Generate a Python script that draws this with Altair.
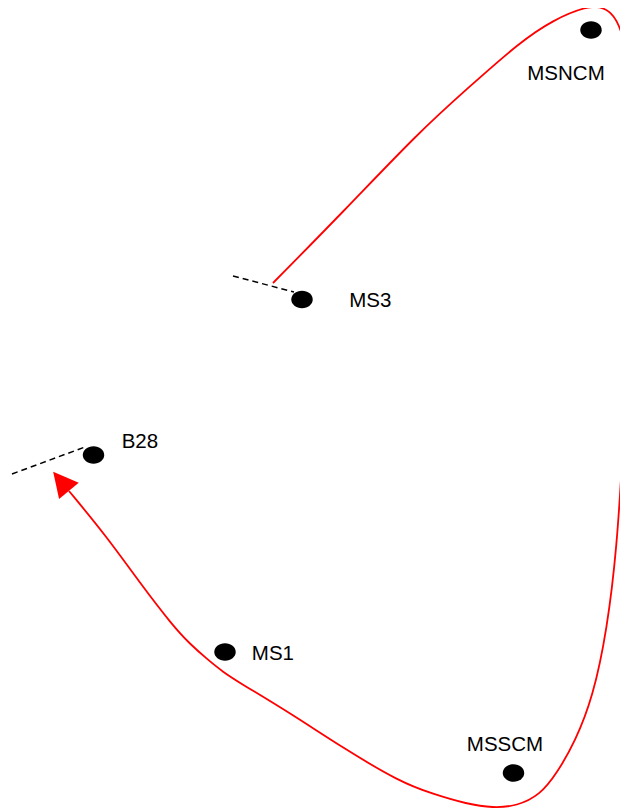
import math
import altair as alt
import pandas as pd

# Station markers (pixel-space coordinates)
st_names = ["MSNCM", "MS3", "B28", "MS1", "MSSCM"]
st_x = [591, 302, 93.5, 225, 513.5]
st_y = [30, 299.5, 455, 652, 773]

# Labels
lb_text = ["MSNCM", "MS3", "B28", "MS1", "MSSCM"]
lb_x = [566, 349.2, 121.7, 251.8, 505]
lb_y = [80, 306.7, 447.7, 660, 751]
lb_align = ["center", "left", "left", "left", "center"]

# Red trajectory (ordered)
cv_x = [273, 343, 419, 468, 520, 553, 587, 603, 614, 622, 627, 629, 632, 633,
        631, 627, 623, 617, 607, 593, 575, 557, 540, 517, 493, 467, 433, 400,
        343, 290, 240, 223, 207, 190, 173, 140, 107, 69]
cv_y = [283, 212, 132, 88, 42, 20, 6, 7, 15, 32, 56, 78, 150, 230,
        300, 360, 447, 547, 630, 697, 742, 773, 795, 806, 808, 804, 794, 782,
        748, 713, 683, 672, 659, 644, 626, 583, 537, 491]

# Dashed segments
ds_group = ["MS3", "MS3", "B28", "B28"]
ds_x = [233, 294, 12, 85]
ds_y = [276, 292, 474, 447]

W, H = 612, 800
xs = alt.Scale(domain=[8, 620])
ys = alt.Scale(domain=[808, 8])

stations = pd.DataFrame({"name": st_names, "x": st_x, "y": st_y})
labels = pd.DataFrame({"t": lb_text, "x": lb_x, "y": lb_y, "a": lb_align})
curve = pd.DataFrame({"x": cv_x, "y": cv_y, "i": list(range(len(cv_x)))})
dashes = pd.DataFrame({"g": ds_group, "x": ds_x, "y": ds_y})

# Arrowhead: at end of curve, oriented along the last segment
ex, ey = cv_x[-1], cv_y[-1]
px, py = cv_x[-2], cv_y[-2]
dx, dy = ex - px, ey - py
L = math.hypot(dx, dy)
ux, uy = dx / L, dy / L
head_len = 25
ax_ = ex + ux * head_len / 2
ay_ = ey + uy * head_len / 2
ang = math.degrees(math.atan2(ux, -uy)) % 360
arrow = pd.DataFrame({"x": [ax_], "y": [ay_]})

X = lambda: alt.X("x:Q", scale=xs, axis=None)
Y = lambda: alt.Y("y:Q", scale=ys, axis=None)

line = alt.Chart(curve).mark_line(
    color="#ff0000", strokeWidth=1.8, interpolate="basis", clip=True
).encode(x=X(), y=Y(), order="i:Q")

dash = alt.Chart(dashes).mark_line(
    color="black", strokeWidth=1.5, strokeDash=[6, 4], clip=True
).encode(x=X(), y=Y(), detail="g:N")

head = alt.Chart(arrow).mark_point(
    shape="M0,-0.97L-1,0.97L1,0.97Z", filled=True, color="#ff0000",
    size=650, opacity=1, angle=ang, strokeWidth=0
).encode(x=X(), y=Y())

dots = alt.Chart(stations).mark_point(
    shape="M-1,0A1,0.81,0,1,0,1,0A1,0.81,0,1,0,-1,0Z", filled=True,
    color="black", size=460, opacity=1, strokeWidth=0
).encode(x=X(), y=Y())

txt_left = alt.Chart(labels).transform_filter(alt.datum.a == "left").mark_text(
    align="left", baseline="alphabetic", font="Liberation Sans", fontSize=20.5,
    color="black"
).encode(x=X(), y=Y(), text="t:N")

txt_center = alt.Chart(labels).transform_filter(alt.datum.a == "center").mark_text(
    align="center", baseline="alphabetic", font="Liberation Sans", fontSize=20.5,
    color="black"
).encode(x=X(), y=Y(), text="t:N")

chart = alt.layer(line, dash, head, dots, txt_left, txt_center).properties(
    width=W, height=H, padding=0
).configure_view(stroke=None)

chart.save("out.html", embed_options={"renderer": "svg", "actions": False})
